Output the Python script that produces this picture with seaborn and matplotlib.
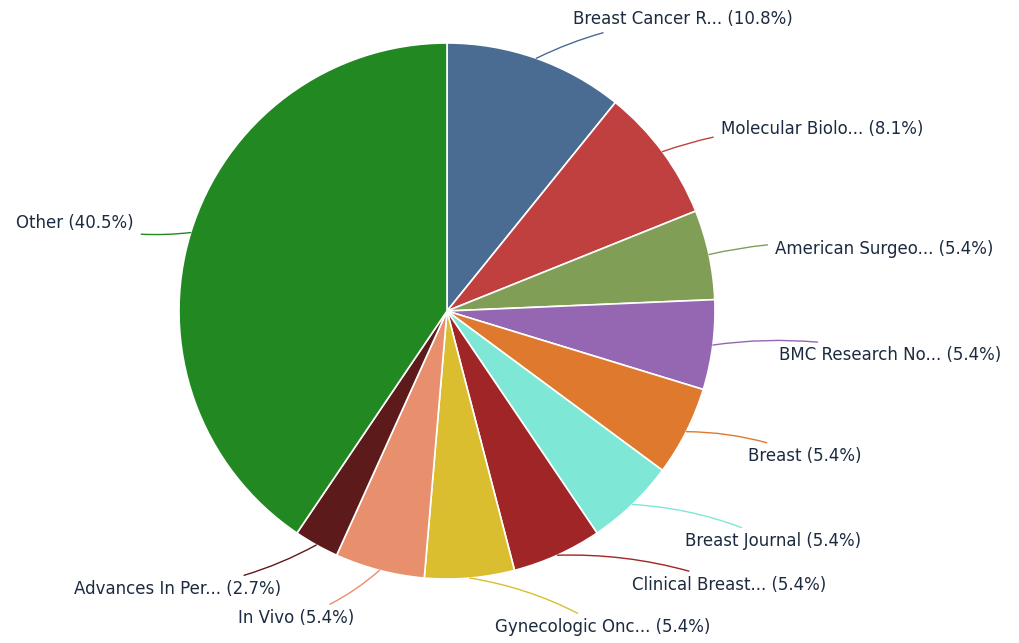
import numpy as np
import matplotlib
matplotlib.use("Agg")
import matplotlib.pyplot as plt
import seaborn as sns

# journal counts (37 papers in total)
journals = ['Breast Cancer R...', 'Molecular Biolo...', 'American Surgeo...',
            'BMC Research No...', 'Breast', 'Breast Journal', 'Clinical Breast...',
            'Gynecologic Onc...', 'In Vivo', 'Advances In Per...', 'Other']
counts = [4, 3, 2, 2, 2, 2, 2, 2, 2, 1, 15]
colors = ['#4a6b92', '#c0403f', '#809e55', '#9567b3', '#df792e', '#7fe7d5',
          '#a02526', '#dbbe30', '#e8906e', '#5c1a1a', '#228822']

sns.set_theme(style="white")
plt.rcParams['font.family'] = ['DejaVu Sans']

fig = plt.figure(figsize=(10.2, 6.43), dpi=100)
ax = fig.add_axes([0, 0, 1, 1])

wedges, _ = ax.pie(counts, colors=colors, startangle=90, counterclock=False,
                   wedgeprops=dict(edgecolor='white', linewidth=1.2))

total = sum(counts)
R = 1.17
# label spots on a circle around the pie
spots = []
for w in wedges:
    ang = np.deg2rad((w.theta1 + w.theta2) / 2)
    ex, ey = np.cos(ang), np.sin(ang)
    spots.append([ex, ey, R * ex, R * ey - 0.015])

# push right side labels up so they don't overlap (from the bottom)
right_idx = [i for i, s in enumerate(spots) if s[0] >= 0]
right_idx.sort(key=lambda i: spots[i][3])
for a, b in zip(right_idx[:-1], right_idx[1:]):
    if spots[b][3] - spots[a][3] < 0.16:
        spots[b][3] = spots[a][3] + 0.16
        spots[b][2] = np.sqrt(max(R ** 2 - spots[b][3] ** 2, 0)) + 0.04

for w, name, c, col, (ex, ey, lx, ly) in zip(wedges, journals, counts, colors, spots):
    right = ex >= 0
    lx = lx + 0.08 if right else lx - 0.05
    label = f"{name} ({100 * c / total:.1f}%)"
    ax.annotate(label, xy=(ex, ey), xytext=(lx, ly),
                ha='left' if right else 'right', va='center',
                fontsize=12, color='#1c2b40',
                arrowprops=dict(arrowstyle='-', color=col, lw=1,
                                shrinkA=3, shrinkB=0,
                                connectionstyle='arc3,rad=0.1'))

ax.set_xlim(-447 / 268, (1020 - 447) / 268)
ax.set_ylim(-(643 - 311) / 268, 311 / 268)
ax.set_aspect('auto')
ax.axis('off')

fig.savefig('out.png', dpi=100, facecolor='white')
